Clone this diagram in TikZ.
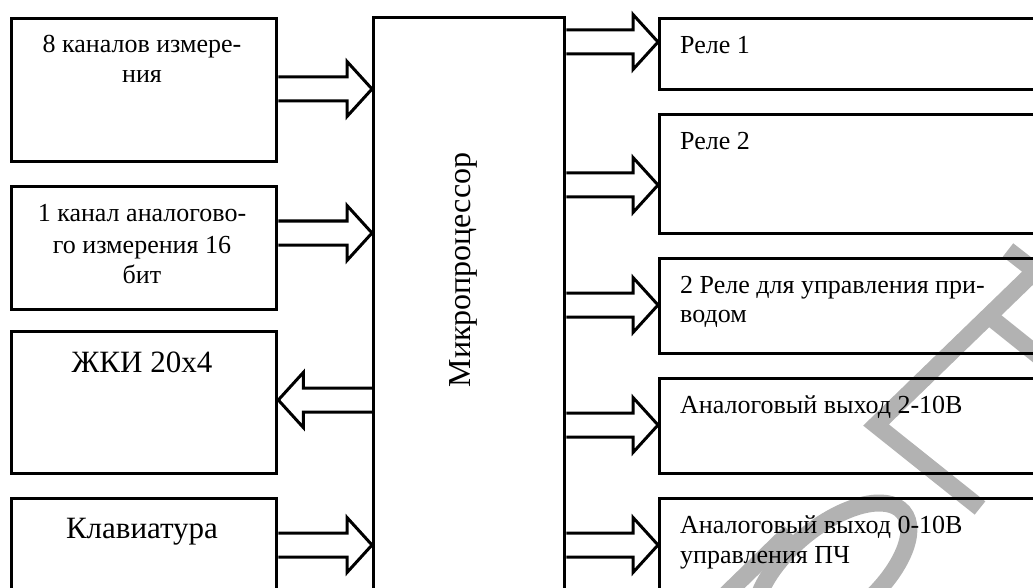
\documentclass[tikz,border=0pt]{standalone}
\usepackage{fontspec}
\setmainfont{Liberation Serif}
\usetikzlibrary{calc}
\tikzset{
  box/.style={draw, line width=3.3pt, inner sep=0pt, anchor=north west},
  fat/.style={draw, line width=3pt, line join=miter},
  sm/.style={font=\fontsize{26}{30}\selectfont, inner sep=0pt},
  big/.style={font=\fontsize{31}{36}\selectfont, inner sep=0pt},
  wm/.style={draw=black!30, line width=17pt}
}
\newcommand\fatarrow[4]{%
  \coordinate (fa-y) at (0,#3);
  \draw[fat] ($(#1 |- fa-y)+(0,-12)$) -- ($(#2 |- fa-y)+(-25*#4,-12)$)
    -- ($(#2 |- fa-y)+(-25*#4,-27.5)$) -- (#2 |- fa-y)
    -- ($(#2 |- fa-y)+(-25*#4,27.5)$) -- ($(#2 |- fa-y)+(-25*#4,12)$)
    -- ($(#1 |- fa-y)+(0,12)$);
}
\begin{document}
\begin{tikzpicture}[x=1pt,y=-1pt]
\useasboundingbox (0,0) rectangle (1033,588);
\clip (0,0) rectangle (1033,588);
% watermark
\draw[wm, line join=miter] (1008,250) -- (1035,271) -- (876,425) -- (980,508);
\draw[wm] (985,313) -- (1045,361);
\draw[wm, rotate around={40:(832,572)}] (832,572) ellipse [x radius=93pt, y radius=45pt];
\draw[wm] (790,532) -- (715,605);
% boxes
\node[box, minimum width=265pt, minimum height=143pt] (l1) at (10,17) {};
\node[box, minimum width=265pt, minimum height=123pt] (l2) at (10,185) {};
\node[box, minimum width=265pt, minimum height=142pt] (l3) at (10,330) {};
\node[box, minimum width=265pt, minimum height=120pt] (l4) at (10,497) {};
\node[box, minimum width=191pt, minimum height=600pt] (m) at (372,16) {};
\node[box, minimum width=400pt, minimum height=71pt] (r1) at (658,17) {};
\node[box, minimum width=400pt, minimum height=119pt] (r2) at (658,113) {};
\node[box, minimum width=400pt, minimum height=95pt] (r3) at (658,257) {};
\node[box, minimum width=400pt, minimum height=95pt] (r4) at (658,377) {};
\node[box, minimum width=400pt, minimum height=120pt] (r5) at (658,497) {};
% texts
\node[sm, anchor=base] (t1a) at (142,53) {8 каналов измере-};
\node[sm, anchor=base] (t1b) at (142,83) {ния};
\node[sm, anchor=base] (t2a) at (142,222) {1 канал аналогово-};
\node[sm, anchor=base] (t2b) at (142,253) {го измерения 16};
\node[sm, anchor=base] (t2c) at (142,283) {бит};
\node[big, anchor=base] (t3) at (142,372) {ЖКИ 20x4};
\node[big, anchor=base] (t4) at (142,538) {Клавиатура};
\node[big, font=\fontsize{32}{36}\selectfont, rotate=90, anchor=base] (tm) at (470,270) {Микропроцессор};
\node[sm, anchor=base west] (u1) at (680,54) {Реле 1};
\node[sm, anchor=base west] (u2) at (680,150) {Реле 2};
\node[sm, anchor=base west] (u3a) at (680,293) {2 Реле для управления при-};
\node[sm, anchor=base west] (u3b) at (680,322) {водом};
\node[sm, anchor=base west] (u4) at (680,413) {Аналоговый выход 2-10В};
\node[sm, anchor=base west] (u5a) at (680,533) {Аналоговый выход 0-10В};
\node[sm, anchor=base west] (u5b) at (680,563) {управления ПЧ};
% arrows
\fatarrow{l1.east}{m.west}{89}{1}
\fatarrow{l2.east}{m.west}{233}{1}
\fatarrow{m.west}{l3.east}{400}{-1}
\fatarrow{l4.east}{m.west}{545}{1}
\fatarrow{m.east}{r1.west}{42}{1}
\fatarrow{m.east}{r2.west}{185}{1}
\fatarrow{m.east}{r3.west}{305}{1}
\fatarrow{m.east}{r4.west}{425}{1}
\fatarrow{m.east}{r5.west}{545}{1}
\end{tikzpicture}
\end{document}
